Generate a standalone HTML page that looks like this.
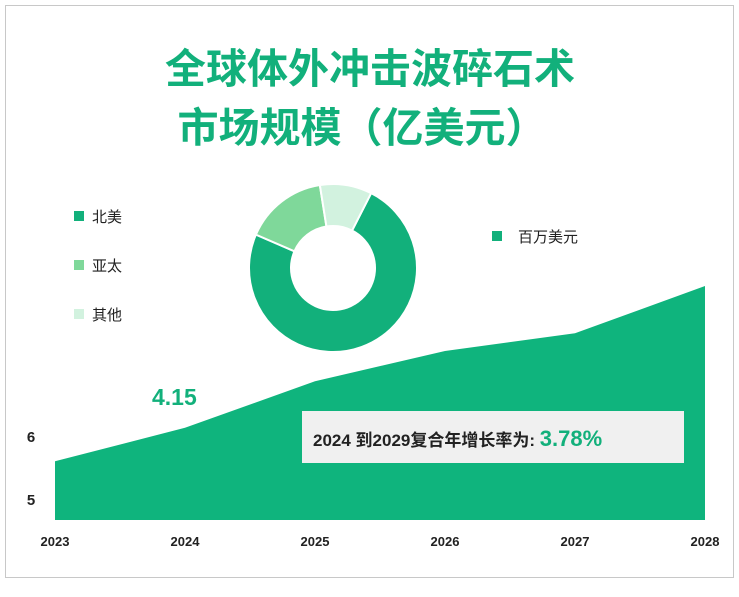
<!DOCTYPE html>
<html><head><meta charset="utf-8">
<style>
html,body{margin:0;padding:0;background:#fff;}
body{width:739px;height:592px;position:relative;overflow:hidden;font-family:"Liberation Sans","Noto Sans CJK SC",sans-serif;}
</style></head>
<body>
<svg width="739" height="592" xmlns="http://www.w3.org/2000/svg">
<rect x="5.5" y="5.5" width="728" height="572" fill="#fff" stroke="#c8c8c8"/>
<text x="370" y="83" text-anchor="middle" font-size="41" font-weight="bold" fill="#12b07b" font-family="Liberation Sans, Noto Sans CJK SC, sans-serif">全球体外冲击波碎石术</text>
<text x="362" y="142" text-anchor="middle" font-size="41" font-weight="bold" fill="#12b07b" font-family="Liberation Sans, Noto Sans CJK SC, sans-serif">市场规模（亿美元）</text>
<g id="area"></g>
<g id="axis"></g>
<g id="yaxis"></g>
<g id="donut"></g>
<g id="legend"></g>
<rect x="492" y="231" width="10" height="10" fill="#12b07b"/>
<text x="518" y="242" font-size="15" fill="#222">百万美元</text>
<text x="152" y="405" font-size="23" font-weight="bold" fill="#12b07b">4.15</text>
<rect x="302" y="411" width="382" height="52" fill="#f0f0f0"/>
<text x="313" y="446" font-size="17" font-weight="bold" fill="#222">2024 到2029复合年增长率为: <tspan font-size="22" fill="#12b07b">3.78%</tspan></text>
</svg>
<script>
const years=["2023","2024","2025","2026","2027","2028"];
const values=[5.6,6.13,6.87,7.35,7.63,8.38];
const yTicks=[5,6];
const donutLabels=["北美","亚太","其他"];
const donutValues=[74,16,10];
const donutColors=["#12b07b","#7fd89a","#d2f2df"];
const NS="http://www.w3.org/2000/svg";
function mk(t,a,p){const e=document.createElementNS(NS,t);for(const k in a)e.setAttribute(k,a[k]);p.appendChild(e);return e;}
const x0=55,x1=705,yBase=520;
function xs(i){return x0+i*(x1-x0)/(years.length-1);}
function ys(v){return 499-(v-5)*63;}
const area=document.getElementById('area');
let d="M"+xs(0)+","+yBase;
values.forEach((v,i)=>{d+=" L"+xs(i)+","+ys(v);});
d+=" L"+xs(values.length-1)+","+yBase+" Z";
const ap=mk('path',{d:d,fill:"#0fb47d"},area);


const ax=document.getElementById('axis');
years.forEach((y,i)=>{const t=mk('text',{x:xs(i),y:546,'text-anchor':'middle','font-size':13,'font-weight':'bold',fill:'#222'},ax);t.textContent=y;

});
const ya=document.getElementById('yaxis');
yTicks.forEach(v=>{const t=mk('text',{x:31,y:ys(v)+6,'text-anchor':'middle','font-size':15,'font-weight':'bold',fill:'#222'},ya);t.textContent=v;

});
const dn=document.getElementById('donut');
const cx=333,cy=268,R=84,r=42;
const tot=donutValues.reduce((a,b)=>a+b,0);
let ang=27;
donutValues.forEach((v,i)=>{const a0=ang*Math.PI/180,a1=(ang+v/tot*360)*Math.PI/180;ang+=v/tot*360;
const p=(rr,a)=>[cx+rr*Math.sin(a),cy-rr*Math.cos(a)];
const lg=(a1-a0)>Math.PI?1:0;
const [ax0,ay0]=p(R,a0),[ax1,ay1]=p(R,a1),[bx1,by1]=p(r,a1),[bx0,by0]=p(r,a0);
const s=mk('path',{d:`M${ax0},${ay0} A${R},${R} 0 ${lg} 1 ${ax1},${ay1} L${bx1},${by1} A${r},${r} 0 ${lg} 0 ${bx0},${by0} Z`,fill:donutColors[i],stroke:'#fff','stroke-width':2},dn);

});
const lgd=document.getElementById('legend');
donutLabels.forEach((l,i)=>{const yy=220+i*49;
const sw=mk('rect',{x:74,y:yy-9,width:10,height:10,fill:donutColors[i]},lgd);


const t=mk('text',{x:92,y:yy+2,'font-size':15,fill:'#222'},lgd);t.textContent=l;

});
</script>
</body></html>
